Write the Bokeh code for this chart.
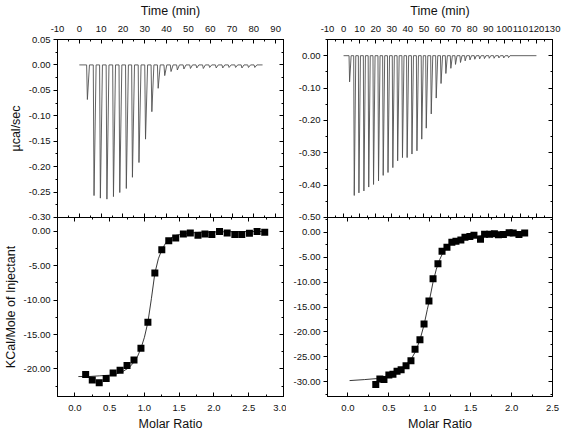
from bokeh.plotting import figure
from bokeh.layouts import row, column
from bokeh.models import (LinearAxis, SingleIntervalTicker, PrintfTickFormatter, Range1d,
                          CustomLabelingPolicy)
from bokeh.embed import file_html
from bokeh.resources import INLINE

# ---------------- data ----------------
# Left experiment: raw thermogram (injection time in min, peak depth in ucal/sec)
inj_time_L = [3.35, 6.4, 9.3, 12.3, 15.3, 18.2, 21.2, 24.0, 27.0, 30.0, 32.9, 35.8, 38.8,
              41.7, 44.6, 47.6, 50.6, 53.5, 56.5, 59.4, 62.4, 65.4, 68.3, 71.3, 74.2, 77.2, 80.1]
inj_depth_L = [-0.068, -0.257, -0.262, -0.264, -0.259, -0.251, -0.243, -0.221, -0.192, -0.146,
               -0.092, -0.046, -0.021, -0.013, -0.010, -0.008, -0.007, -0.006, -0.007, -0.005,
               -0.006, -0.006, -0.005, -0.005, -0.006, -0.005, -0.005]
trace_span_L = [0.0, 84.0]

# Left experiment: integrated heats
ratio_L = [0.155, 0.25, 0.35, 0.45, 0.55, 0.65, 0.75, 0.85, 0.95, 1.05, 1.15, 1.25, 1.35,
           1.45, 1.56, 1.66, 1.77, 1.87, 1.97, 2.08, 2.19, 2.30, 2.40, 2.51, 2.62, 2.73]
heat_L = [-20.8, -21.6, -22.0, -21.4, -20.6, -20.2, -19.5, -18.7, -17.0, -13.2, -6.05, -2.7, -1.36,
          -0.97, -0.39, -0.24, -0.58, -0.39, -0.48, -0.05, -0.24, -0.48, -0.48, -0.29, -0.05, -0.15]
fit_x_L = [0.05, 0.2, 0.35, 0.5, 0.6, 0.7, 0.78, 0.85, 0.9, 0.95, 1.0, 1.05, 1.1, 1.15, 1.2,
           1.25, 1.3, 1.35, 1.45, 1.6, 1.8, 2.1, 2.4, 2.75]
fit_y_L = [-21.1, -21.1, -21.0, -20.9, -20.7, -20.3, -19.8, -19.0, -18.2, -17.0, -15.4, -13.2,
           -9.8, -6.1, -4.0, -2.7, -1.8, -1.2, -0.6, -0.3, -0.15, -0.08, -0.05, -0.03]

# Right experiment: raw thermogram
inj_time_R = [3.4, 6.3, 9.2, 12.3, 15.3, 18.3, 21.4, 24.3, 27.3, 30.3, 33.3, 36.3, 39.2, 42.2,
              45.3, 48.3, 51.1, 54.2, 57.3, 60.3, 63.3, 66.4, 69.3, 72.4, 75.3, 78.3, 81.3,
              84.3, 87.3, 90.3, 93.3, 96.3, 99.3, 102.3]
inj_depth_R = [-0.081, -0.432, -0.424, -0.418, -0.406, -0.398, -0.387, -0.370, -0.361, -0.346,
               -0.325, -0.315, -0.315, -0.304, -0.294, -0.258, -0.224, -0.180, -0.131, -0.086,
               -0.055, -0.039, -0.027, -0.021, -0.016, -0.013, -0.011, -0.010, -0.009, -0.008,
               -0.008, -0.007, -0.007, -0.006]
trace_span_R = [0.0, 120.0]

# Right experiment: integrated heats
ratio_R = [0.34, 0.39, 0.44, 0.50, 0.55, 0.60, 0.65, 0.71, 0.77, 0.82, 0.88, 0.93, 0.99, 1.04,
           1.10, 1.15, 1.21, 1.27, 1.32, 1.38, 1.43, 1.49, 1.54, 1.62, 1.67, 1.73, 1.79, 1.84,
           1.90, 1.97, 2.02, 2.09, 2.16]
heat_R = [-30.6, -29.5, -29.6, -28.7, -28.5, -27.9, -27.6, -26.8, -25.8, -23.5, -21.6, -18.4,
          -13.8, -9.3, -6.3, -3.8, -3.0, -2.0, -1.8, -1.55, -0.95, -0.8, -0.55, -1.35, -0.35,
          -0.35, -0.27, -0.47, -0.40, -0.07, -0.13, -0.40, -0.13]
fit_x_R = [0.02, 0.2, 0.35, 0.45, 0.55, 0.65, 0.72, 0.78, 0.83, 0.88, 0.93, 0.97, 1.0, 1.04,
           1.08, 1.12, 1.16, 1.21, 1.27, 1.35, 1.45, 1.6, 1.8, 2.0, 2.17]
fit_y_R = [-29.8, -29.6, -29.4, -29.0, -28.4, -27.5, -26.5, -25.3, -23.8, -21.6, -18.6, -15.5,
           -13.3, -10.0, -7.4, -5.5, -4.1, -3.0, -2.2, -1.6, -1.1, -0.7, -0.4, -0.3, -0.25]

# axis texts
time_title = "Time (min)"
ratio_title = "Molar Ratio"
raw_ylabel = "\u00b5cal/sec"
heat_ylabel = "KCal/Mole of Injectant"

FONT = "Liberation Sans"
TICK_FS = "9.5px"
LABEL_FS = "12.5px"


def build_trace(span, times, depths):
    xs = [span[0]]
    ys = [0.0]
    for t, d in zip(times, depths):
        xs += [t, t + 0.35, t + 1.3]
        ys += [0.0, d, 0.0]
    xs.append(span[1])
    ys.append(0.0)
    return xs, ys


def make_fig(xr, yr, w, h, left, right, top, bottom, transparent_border=False):
    p = figure(width=w, height=h, x_range=Range1d(*xr), y_range=Range1d(*yr),
               output_backend="svg", toolbar_location=None,
               x_axis_location=None, y_axis_location=None,
               min_border_left=left, min_border_right=right,
               min_border_top=top, min_border_bottom=bottom)
    p.xgrid.visible = False
    p.ygrid.visible = False
    p.outline_line_color = "black"
    p.outline_line_width = 1
    p.background_fill_color = "white"
    p.border_fill_color = None if transparent_border else "white"
    return p


NO_LABELS = CustomLabelingPolicy(code="""
    for (const i of indices) { indices.unset(i) }
    return indices
""")


def add_axis(p, side, interval, fmt=None, label=None, out=False, bare=False,
             label_standoff=3, title_standoff=3):
    ax = LinearAxis(ticker=SingleIntervalTicker(interval=interval, num_minor_ticks=2))
    ax.axis_line_color = "black"
    ax.major_tick_line_color = "black"
    ax.minor_tick_line_color = "black"
    if out:
        ax.major_tick_out, ax.major_tick_in = 4, 0
        ax.minor_tick_out, ax.minor_tick_in = 2, 0
    else:
        ax.major_tick_out, ax.major_tick_in = 0, 4
        ax.minor_tick_out, ax.minor_tick_in = 0, 2
    if bare:
        ax.major_label_text_font_size = "0px"
        ax.major_label_standoff = 0
        ax.major_label_policy = NO_LABELS
        ax.axis_label = None
    else:
        ax.formatter = PrintfTickFormatter(format=fmt)
        ax.major_label_text_font = FONT
        ax.major_label_text_font_size = TICK_FS
        ax.major_label_text_color = "#111111"
        ax.major_label_standoff = label_standoff
        if label:
            ax.axis_label = label
            ax.axis_label_text_font = FONT
            ax.axis_label_text_font_size = LABEL_FS
            ax.axis_label_text_font_style = "normal"
            ax.axis_label_text_color = "#111111"
            ax.axis_label_standoff = title_standoff
    p.add_layout(ax, side)
    return ax


# ---------------- layout sizes ----------------
LB, FW_L, RB_L = 55, 228, 3
LB_R, FW_R, RB_R = 41, 225, 10
TB, FH_T, GAP, FH_B, BB = 39, 178, 6, 179, 38
W_L = LB + FW_L + RB_L
W_R = LB_R + FW_R + RB_R

# Top left: raw heat vs time
pA = make_fig((-10, 93.6), (-0.3001, 0.05), W_L, TB + FH_T + GAP, LB, RB_L, TB, GAP)
add_axis(pA, "above", 10, "%d", time_title, label_standoff=8, title_standoff=5)
add_axis(pA, "left", 0.05, "%.2f", raw_ylabel, out=True)
add_axis(pA, "right", 0.05, bare=True)
add_axis(pA, "below", 10, bare=True)
xa, ya = build_trace(trace_span_L, inj_time_L, inj_depth_L)
pA.line(xa, ya, line_color="#505050", line_width=0.9)

# Bottom left: integrated heats
pB = make_fig((-0.25, 3.0), (-24, 2), W_L, GAP + FH_B + BB, LB, RB_L, GAP, BB,
              transparent_border=True)
add_axis(pB, "below", 0.5, "%.1f", ratio_title, label_standoff=8, title_standoff=3)
add_axis(pB, "left", 5, "%.2f", heat_ylabel, out=True)
add_axis(pB, "right", 5, bare=True)
add_axis(pB, "above", 0.5, bare=True)
pB.line(fit_x_L, fit_y_L, line_color="#222222", line_width=0.9)
pB.scatter(ratio_L, heat_L, marker="square", size=7, fill_color="black", line_color=None)
pB.margin = (-2 * GAP, 0, 0, 0)

# Top right
pC = make_fig((-10, 130), (-0.5001, 0.05), W_R, TB + FH_T + GAP, LB_R, RB_R, TB, GAP)
add_axis(pC, "above", 10, "%d", time_title, label_standoff=8, title_standoff=5)
add_axis(pC, "left", 0.1, "%.2f", None, out=True)
add_axis(pC, "right", 0.1, bare=True)
add_axis(pC, "below", 10, bare=True)
xc, yc = build_trace(trace_span_R, inj_time_R, inj_depth_R)
pC.line(xc, yc, line_color="#505050", line_width=0.9)

# Bottom right
pD = make_fig((-0.25, 2.5), (-33, 3), W_R, GAP + FH_B + BB, LB_R, RB_R, GAP, BB,
              transparent_border=True)
add_axis(pD, "below", 0.5, "%.1f", ratio_title, label_standoff=8, title_standoff=3)
add_axis(pD, "left", 5, "%.2f", None, out=True)
add_axis(pD, "right", 5, bare=True)
add_axis(pD, "above", 0.5, bare=True)
pD.line(fit_x_R, fit_y_R, line_color="#222222", line_width=0.9)
pD.scatter(ratio_R, heat_R, marker="square", size=7, fill_color="black", line_color=None)
pD.margin = (-2 * GAP, 0, 0, 0)

layout = row(column(pA, pB, spacing=0), column(pC, pD, spacing=0), spacing=0)

open("out.html", "w").write(file_html(layout, INLINE))
